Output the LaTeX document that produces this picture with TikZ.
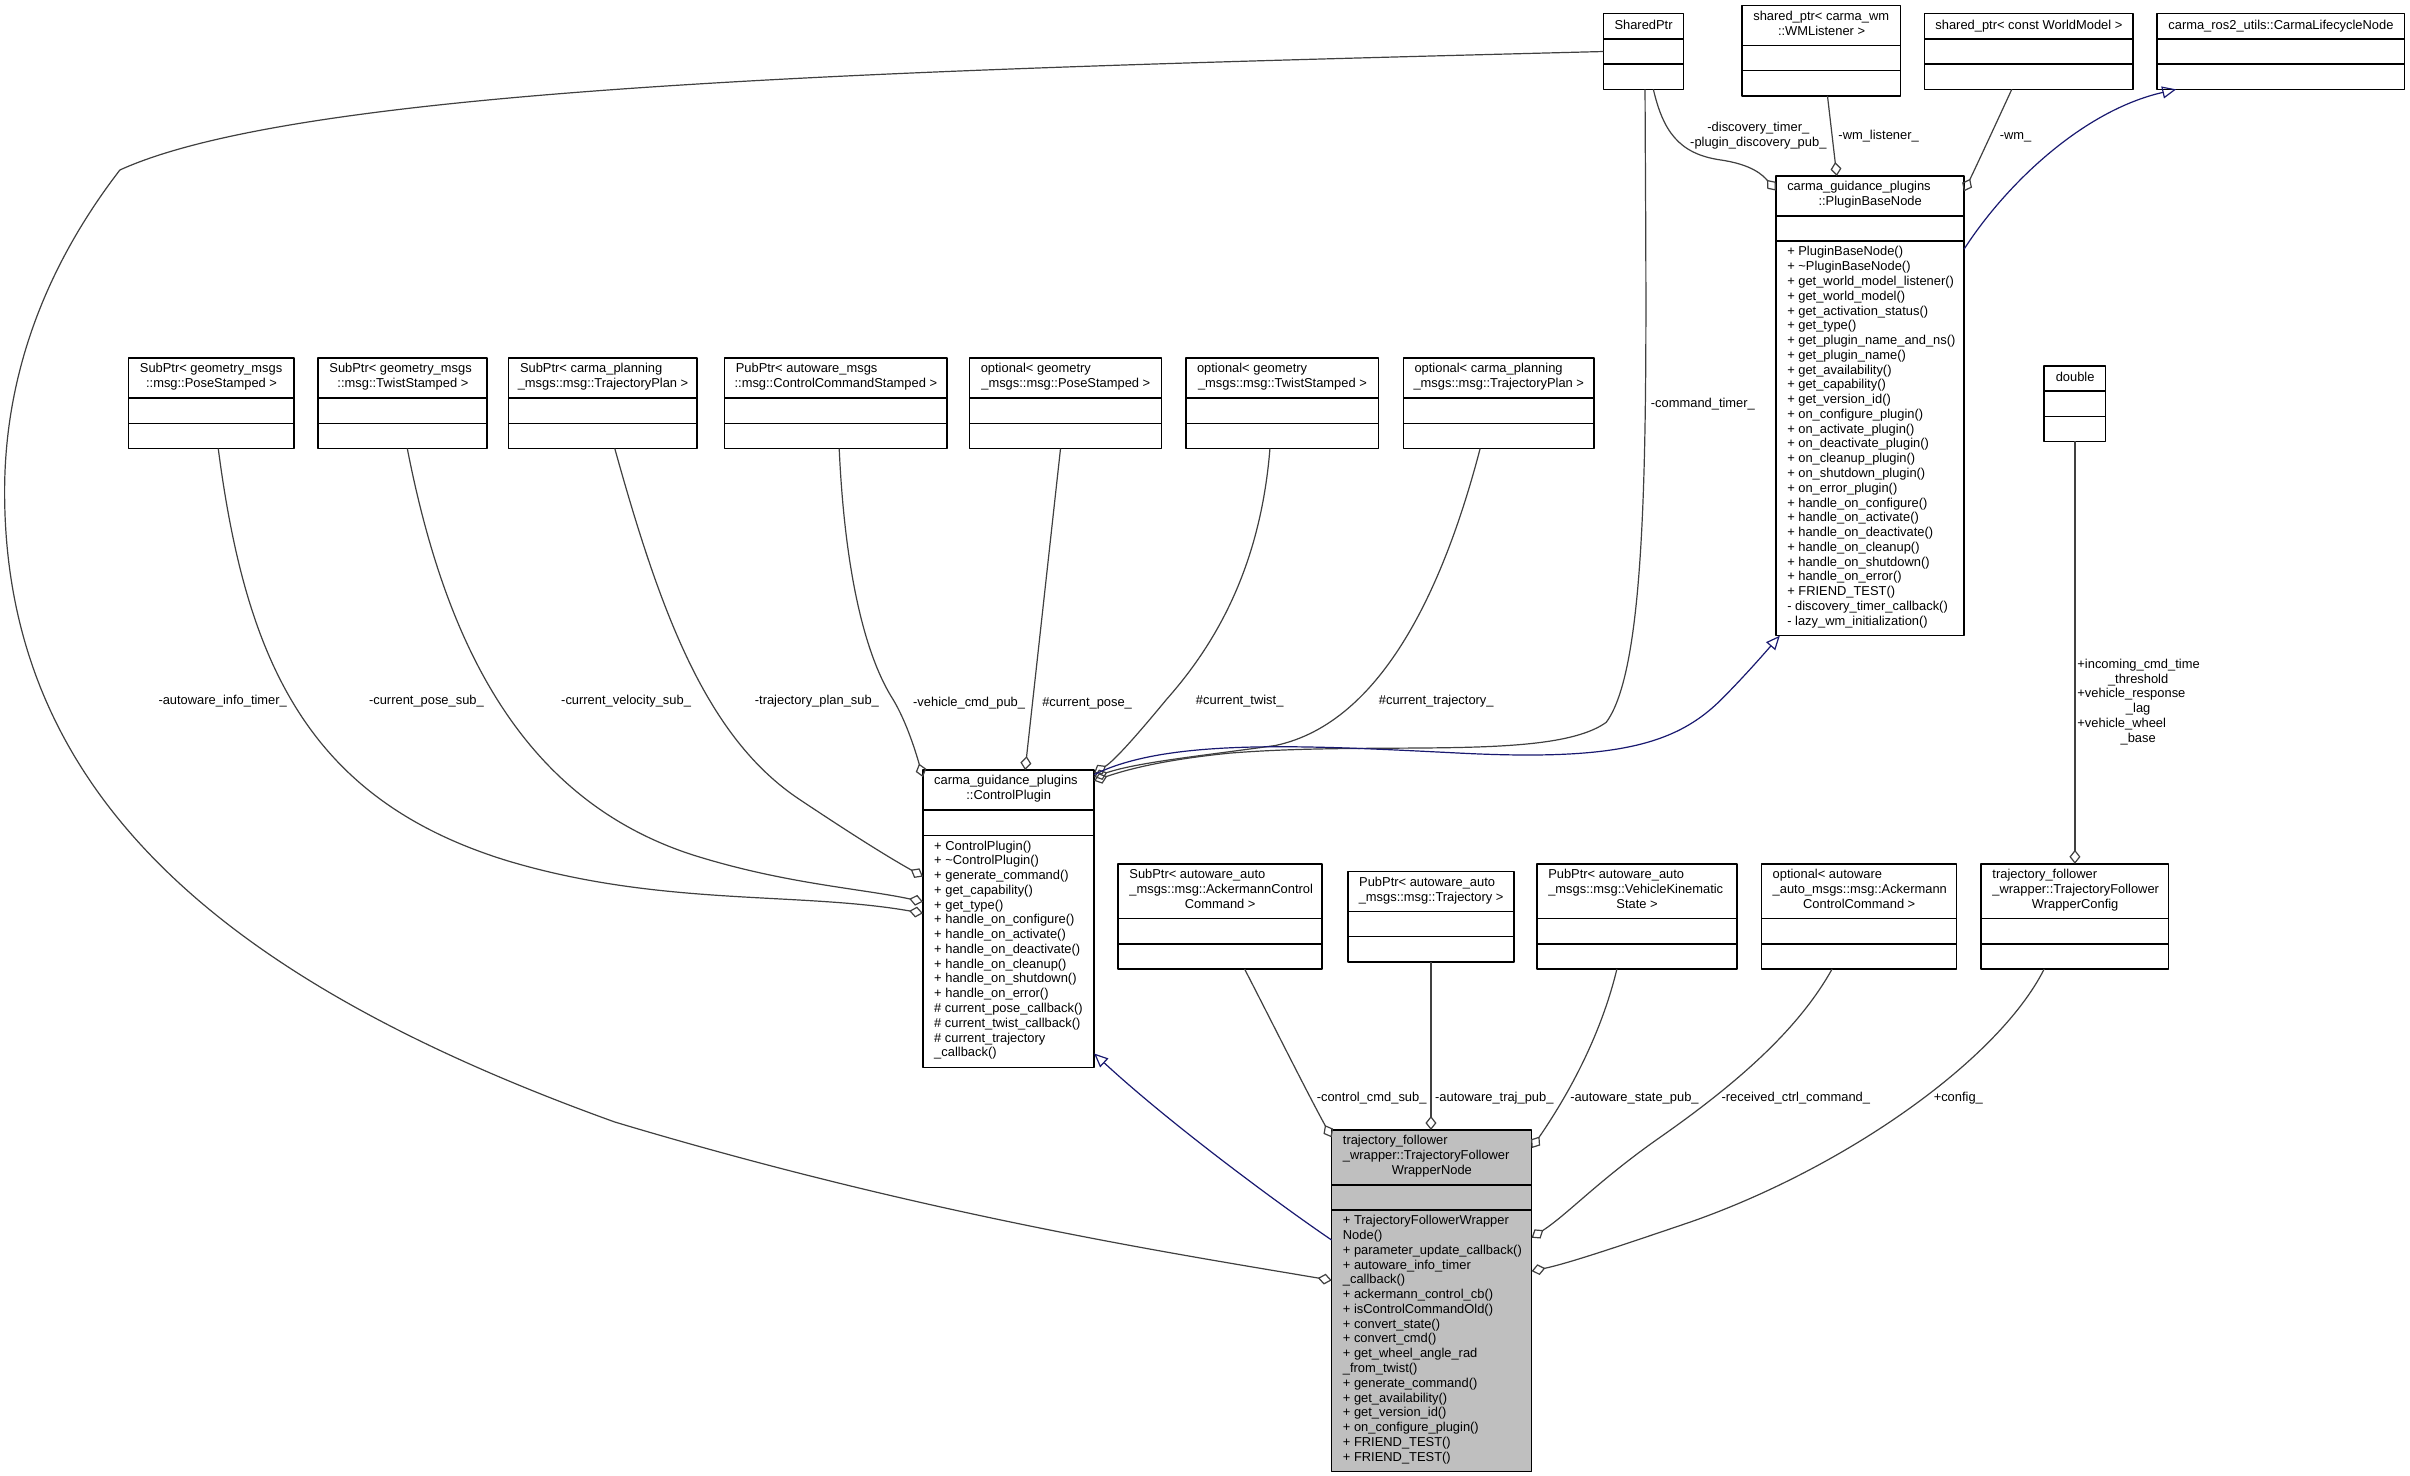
\documentclass[tikz,border=0pt]{standalone}
\usepackage{fontspec}
\setmainfont{Liberation Sans}
\usetikzlibrary{arrows.meta,calc}
\definecolor{edgegray}{HTML}{404040}
\definecolor{inhblue}{HTML}{191970}
\definecolor{nodegray}{HTML}{BFBFBF}
\newcommand\boxfont{\fontsize{12.9pt}{14.77pt}\selectfont}
\newcommand\ctr[1]{\makebox[\tw pt][c]{#1}}
\newcommand\umlbox[9][]{%
  \pgfmathsetmacro\ya{#4+6.8+9.61*#6}%
  \pgfmathsetmacro\yb{\ya+16.41}%
  \pgfmathsetmacro\yc{\yb+6.8+9.61*max(#7,1)}%
  \pgfmathsetmacro\bw{(#5-#3)*1.537}%
  \pgfmathsetmacro\bh{(\yc-#4)*1.537}%
  \pgfmathsetmacro\tw{(#5-#3-14.4)*1.537}%
  \node[classbox,#1,minimum width=\bw pt,minimum height=\bh pt,anchor=north west] (#2) at (#3,#4) {};%
  \draw[sepline] (#3,\ya) -- (#5,\ya);%
  \draw[sepline] (#3,\yb) -- (#5,\yb);%
  \node[boxtext,anchor=north west] (#2-t) at (#3+7.2,#4+3.4) {#8};%
  \ifnum#7>0 \node[boxtext,anchor=north west] (#2-m) at (#3+7.2,\yb+3.4) {#9};\fi
}
\begin{document}
\begin{tikzpicture}[x=1.537pt,y=-1.537pt,line join=round,
  classbox/.style={draw=black,fill=white,line width=1.5pt,inner sep=0pt,outer sep=0pt},
  sepline/.style={line width=1.5pt},
  boxtext/.style={inner sep=0pt,align=left,font=\boxfont,execute at begin node=\strut,execute at end node=\strut},
  lbl/.style={inner sep=0pt,font=\boxfont,anchor=base west},
  mlbl/.style={inner sep=0pt,font=\boxfont,execute at begin node=\strut,execute at end node=\strut},
  agg/.style={draw=edgegray,line width=1.2pt,-{Diamond[open,length=14pt,width=11pt]}},
  inh/.style={draw=inhblue,line width=1.2pt,-{Triangle[open,length=14pt,width=12pt]}}]
\fill[white] (0,0) rectangle (1568,960);
\useasboundingbox (0,0) rectangle (1568,960);

% ---------- classes ----------
\umlbox{sp}{1043.2}{8.9}{1095.2}{1}{0}{\ctr{SharedPtr}}{}
\umlbox{wml}{1133.4}{3.6}{1236.6}{2}{0}{shared\_ptr< carma\_wm\\\ctr{::WMListener >}}{}
\umlbox{wm}{1252}{8.9}{1387.8}{1}{0}{\ctr{shared\_ptr< const WorldModel >}}{}
\umlbox{cln}{1403.3}{8.9}{1564.5}{1}{0}{\ctr{carma\_ros2\_utils::CarmaLifecycleNode}}{}
\umlbox{pbn}{1155.5}{114.5}{1277.8}{2}{26}{carma\_guidance\_plugins\\\ctr{::PluginBaseNode}}{+ PluginBaseNode()\\+ \textasciitilde PluginBaseNode()\\+ get\_world\_model\_listener()\\+ get\_world\_model()\\+ get\_activation\_status()\\+ get\_type()\\+ get\_plugin\_name\_and\_ns()\\+ get\_plugin\_name()\\+ get\_availability()\\+ get\_capability()\\+ get\_version\_id()\\+ on\_configure\_plugin()\\+ on\_activate\_plugin()\\+ on\_deactivate\_plugin()\\+ on\_cleanup\_plugin()\\+ on\_shutdown\_plugin()\\+ on\_error\_plugin()\\+ handle\_on\_configure()\\+ handle\_on\_activate()\\+ handle\_on\_deactivate()\\+ handle\_on\_cleanup()\\+ handle\_on\_shutdown()\\+ handle\_on\_error()\\+ FRIEND\_TEST()\\- discovery\_timer\_callback()\\- lazy\_wm\_initialization()}

\umlbox{nA}{83.7}{233}{191.3}{2}{0}{SubPtr< geometry\_msgs\\\ctr{::msg::PoseStamped >}}{}
\umlbox{nB}{207}{233}{317}{2}{0}{SubPtr< geometry\_msgs\\\ctr{::msg::TwistStamped >}}{}
\umlbox{nC}{331}{233}{453.4}{2}{0}{SubPtr< carma\_planning\\\ctr{\_msgs::msg::TrajectoryPlan >}}{}
\umlbox{nD}{471.4}{233}{616}{2}{0}{PubPtr< autoware\_msgs\\\ctr{::msg::ControlCommandStamped >}}{}
\umlbox{nE}{630.8}{233}{755.8}{2}{0}{optional< geometry\\\ctr{\_msgs::msg::PoseStamped >}}{}
\umlbox{nF}{771.5}{233}{897}{2}{0}{optional< geometry\\\ctr{\_msgs::msg::TwistStamped >}}{}
\umlbox{nG}{913}{233}{1037}{2}{0}{optional< carma\_planning\\\ctr{\_msgs::msg::TrajectoryPlan >}}{}
\umlbox{dbl}{1330}{238}{1370}{1}{0}{\ctr{double}}{}

\umlbox{cp}{600.5}{501}{711.8}{2}{15}{carma\_guidance\_plugins\\\ctr{::ControlPlugin}}{+ ControlPlugin()\\+ \textasciitilde ControlPlugin()\\+ generate\_command()\\+ get\_capability()\\+ get\_type()\\+ handle\_on\_configure()\\+ handle\_on\_activate()\\+ handle\_on\_deactivate()\\+ handle\_on\_cleanup()\\+ handle\_on\_shutdown()\\+ handle\_on\_error()\\\# current\_pose\_callback()\\\# current\_twist\_callback()\\\# current\_trajectory\\\_callback()}

\umlbox{nH}{727.5}{562}{860}{3}{0}{SubPtr< autoware\_auto\\\_msgs::msg::AckermannControl\\\ctr{Command >}}{}
\umlbox{nI}{877}{567}{985}{2}{0}{PubPtr< autoware\_auto\\\ctr{\_msgs::msg::Trajectory >}}{}
\umlbox{nJ}{1000}{562}{1130}{3}{0}{PubPtr< autoware\_auto\\\_msgs::msg::VehicleKinematic\\\ctr{State >}}{}
\umlbox{nK}{1146}{562}{1273}{3}{0}{optional< autoware\\\_auto\_msgs::msg::Ackermann\\\ctr{ControlCommand >}}{}
\umlbox{nL}{1289}{562}{1411}{3}{0}{trajectory\_follower\\\_wrapper::TrajectoryFollower\\\ctr{WrapperConfig}}{}

\umlbox[fill=nodegray]{m}{866.4}{735.2}{996.5}{3}{17}{trajectory\_follower\\\_wrapper::TrajectoryFollower\\\ctr{WrapperNode}}{+ TrajectoryFollowerWrapper\\Node()\\+ parameter\_update\_callback()\\+ autoware\_info\_timer\\\_callback()\\+ ackermann\_control\_cb()\\+ isControlCommandOld()\\+ convert\_state()\\+ convert\_cmd()\\+ get\_wheel\_angle\_rad\\\_from\_twist()\\+ generate\_command()\\+ get\_availability()\\+ get\_version\_id()\\+ on\_configure\_plugin()\\+ FRIEND\_TEST()\\+ FRIEND\_TEST()}

% ---------- connectors ----------
% SharedPtr -> TrajectoryFollowerWrapperNode
\draw[agg] (sp.west) .. controls (600,45) and (200,55) .. (78,110.6)
  .. controls (40,160) and (3,230) .. (3,320)
  .. controls (3,520) and (150,640) .. (400,730)
  .. controls (600,790) and (760,815) .. ($(m.north west)+(0,97.8)$);
\node[lbl] (l-info) at (103,458.1) {-autoware\_info\_timer\_};

% SharedPtr -> PluginBaseNode
\draw[agg] ($(sp.south)+(6.5,0)$) .. controls (1082,85) and (1092,100) .. (1119,104)
  .. controls (1140,107) and (1147,114) .. ($(pbn.north west)+(0,9.5)$);
\node[mlbl,anchor=north,align=center] (l-disc) at (1144,79.3) {-discovery\_timer\_\\-plugin\_discovery\_pub\_};

% SharedPtr -> ControlPlugin
\draw[agg] ($(sp.south)+(1.1,0)$) .. controls (1071,250) and (1075,430) .. (1045,470)
  .. controls (1010,495) and (900,482) .. (800,490)
  .. controls (760,494) and (735,500) .. ($(cp.north east)+(0,7)$);
\node[lbl] (l-cmdt) at (1074,265.1) {-command\_timer\_};

% WMListener -> PluginBaseNode
\draw[agg] ($(wml.south)+(4,0)$) -- ($(pbn.north)+(-21.6,0)$);
\node[lbl] (l-wml) at (1196,90.9) {-wm\_listener\_};

% WorldModel -> PluginBaseNode
\draw[agg] ($(wm.south)+(-11,0)$) .. controls (1297,84) and (1284,112) .. ($(pbn.north east)+(0,10)$);
\node[lbl] (l-wm) at (1301,90.9) {-wm\_};

% PluginBaseNode -> CarmaLifecycleNode (inheritance)
\draw[inh] ($(pbn.north east)+(0,47.7)$) .. controls (1305,120) and (1355,72) .. ($(cln.south)+(-68,0)$);

% row 2 -> ControlPlugin
\draw[agg] ($(nA.south)+(4.5,0)$) .. controls (160,430) and (200,520) .. (330,560)
  .. controls (430,590) and (520,580) .. ($(cp.north west)+(0,93.2)$);
\node[lbl] (l-cps) at (240,458.1) {-current\_pose\_sub\_};

\draw[agg] ($(nB.south)+(3,0)$) .. controls (290,420) and (340,520) .. (450,556)
  .. controls (510,575) and (560,578) .. ($(cp.north west)+(0,85.7)$);
\node[lbl] (l-cvs) at (365,458.1) {-current\_velocity\_sub\_};

\draw[agg] ($(nC.south)+(7.8,0)$) .. controls (430,400) and (460,480) .. (520,520)
  .. controls (550,540) and (575,556) .. ($(cp.north west)+(0,69.3)$);
\node[lbl] (l-tps) at (491,458.1) {-trajectory\_plan\_sub\_};

\draw[agg] ($(nD.south)+(2.3,0)$) .. controls (550,380) and (565,430) .. (581,455)
  .. controls (590,470) and (596,490) .. ($(cp.north west)+(0,4.6)$);
\node[lbl] (l-vcp) at (594,459.6) {-vehicle\_cmd\_pub\_};

\draw[agg] ($(nE.south)+(-3.3,0)$) -- ($(cp.north)+(10.8,0)$);
\node[lbl] (l-cp) at (678,459.6) {\#current\_pose\_};

\draw[agg] ($(nF.south)+(-8,0)$) .. controls (820,370) and (790,420) .. (759,455)
  .. controls (740,478) and (725,495) .. ($(cp.north east)+(0,2)$);
\node[lbl] (l-ct) at (778,458.1) {\#current\_twist\_};

\draw[agg] ($(nG.south)+(-12,0)$) .. controls (940,380) and (900,470) .. (830,485)
  .. controls (780,492) and (740,496) .. ($(cp.north east)+(0,4.5)$);
\node[lbl] (l-ctr) at (897,458.1) {\#current\_trajectory\_};

% ControlPlugin -> PluginBaseNode (inheritance)
\draw[inh] ($(cp.north east)+(0,3)$) .. controls (760,480) and (850,485) .. (950,490)
  .. controls (1050,495) and (1090,485) .. (1120,455)
  .. controls (1135,440) and (1148,425) .. ($(pbn.south west)+(2.5,0)$);

% TrajectoryFollowerWrapperNode -> ControlPlugin (inheritance)
\draw[inh] ($(m.north west)+(0,71.6)$) .. controls (830,782) and (760,730) .. ($(cp.south east)+(0,-9)$);

% row 3 -> TrajectoryFollowerWrapperNode
\draw[agg] ($(nH.south)+(16,0)$) .. controls (825,660) and (850,710) .. ($(m.north west)+(0,4.8)$);
\node[lbl] (l-ccs) at (856.6,716.6) {-control\_cmd\_sub\_};

\draw[agg] (nI.south) -- (nI.south |- m.north);
\node[lbl] (l-atp) at (933.6,716.6) {-autoware\_traj\_pub\_};

\draw[agg] ($(nJ.south)+(-13,0)$) .. controls (1040,680) and (1015,720) .. ($(m.north east)+(0,11.8)$);
\node[lbl] (l-asp) at (1021.5,716.6) {-autoware\_state\_pub\_};

\draw[agg] ($(nK.south)+(-17.5,0)$) .. controls (1170,670) and (1130,705) .. (1080,740)
  .. controls (1040,768) and (1020,790) .. ($(m.north east)+(0,70.1)$);
\node[lbl] (l-rcc) at (1120,716.6) {-received\_ctrl\_command\_};

\draw[agg] ($(nL.south)+(-20,0)$) .. controls (1300,690) and (1200,760) .. (1100,795)
  .. controls (1050,812) and (1020,822) .. ($(m.north east)+(0,91.8)$);
\node[lbl] (l-cfg) at (1258,716.6) {+config\_};

% double -> config
\draw[agg] (dbl.south) -- (dbl.south |- nL.north);
\node[mlbl,anchor=north west,align=left] (l-dbl) at (1351.5,428.6) {+incoming\_cmd\_time\\\hspace*{60.7pt}\makebox[0pt]{\_threshold}\\+vehicle\_response\\\hspace*{60.7pt}\makebox[0pt]{\_lag}\\+vehicle\_wheel\\\hspace*{60.7pt}\makebox[0pt]{\_base}};
\end{tikzpicture}
\end{document}
